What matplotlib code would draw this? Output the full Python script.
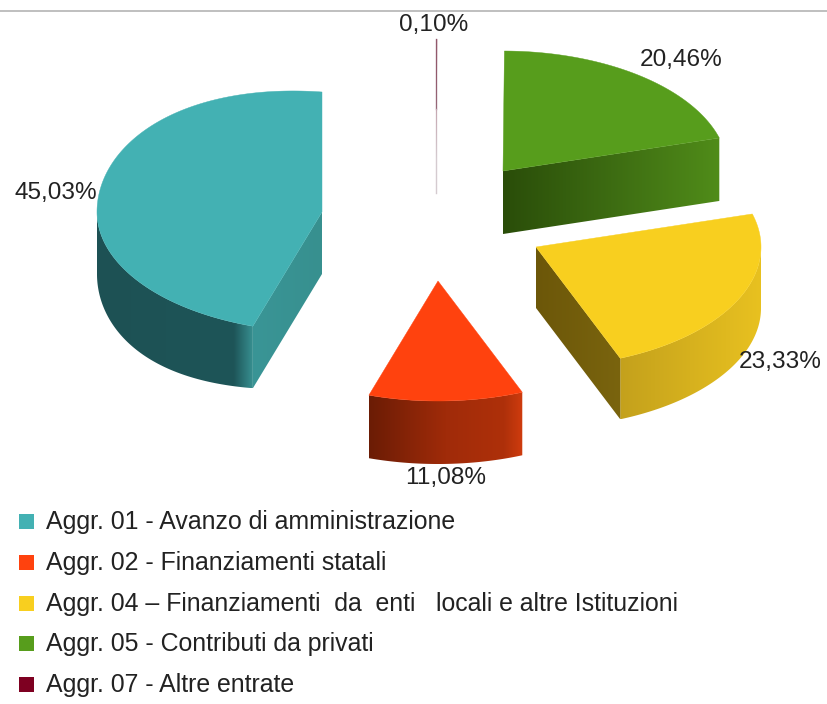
import numpy as np
import matplotlib
matplotlib.use("Agg")
import matplotlib.pyplot as plt
from matplotlib.colors import LinearSegmentedColormap
from matplotlib.patches import Polygon, Rectangle

plt.rcParams['font.family'] = ['Liberation Sans', 'DejaVu Sans']

legend_labels = ["Aggr. 01 - Avanzo di amministrazione",
                 "Aggr. 02 - Finanziamenti statali",
                 "Aggr. 04 – Finanziamenti  da  enti   locali e altre Istituzioni",
                 "Aggr. 05 - Contributi da privati",
                 "Aggr. 07 - Altre entrate"]
values = [45.03, 11.08, 23.33, 20.46, 0.10]
colors = ["#43b1b3", "#ff420e", "#f8cf1f", "#579d1c", "#7e0021"]

# look of the fake 3d pie, all in pixels
rx, ry = 225, 120
apex_x = [322, 438, 536, 503, 436]
apex_y = [212, 281, 247, 171, 159]
depth = [62, 63, 61, 63, 34]
lift = [8, 0, 0, 0, 0]  # the big slice bulges a bit from perspective
label_xy = [(56, 193), (446, 478), (780, 362), (681, 60), (434, 25)]

# gradient stops (position, colour) left to right for the visible sides
outer_stops = [[(0, "#1d5154"), (0.88, "#1e5558"), (1, "#378f90")],
               [(0, "#6b1c05"), (0.5, "#a02b09"), (0.88, "#ae300a"), (1, "#d03c0e")],
               [(0, "#c4a11c"), (0.5, "#d6b11e"), (1, "#e8c120")],
               None, None]
cut_stops = [[(0, "#3a9596"), (1, "#37908f")],
             None,
             [(0, "#6c5709"), (1, "#7a640e")],
             [(0, "#2a4d09"), (0.5, "#3d6c12"), (1, "#508c19")],
             None]

fig = plt.figure(figsize=(8.27, 7.04), dpi=100)
ax = fig.add_axes([0, 0, 1, 1])


def arc(i, t0, t1, lower=False):
    t = np.radians(np.linspace(t0, t1, 200))
    if lower:
        # bulge goes back to zero at both ends of the wall
        y = apex_y[i] - ry * np.sin(t) + depth[i] + lift[i] * np.sin(np.linspace(0, np.pi, 200))
    else:
        s = np.sin(2 * (t - np.pi / 2))
        y = apex_y[i] - ry * np.sin(t) - lift[i] * np.clip(s, 0, None)
    return np.column_stack([apex_x[i] + rx * np.cos(t), y])


def gradient_face(pts, stops, z):
    # horizontal gradient clipped to the face
    cmap = LinearSegmentedColormap.from_list("f", stops)
    x0, x1 = pts[:, 0].min(), pts[:, 0].max()
    y0, y1 = pts[:, 1].min(), pts[:, 1].max()
    im = ax.imshow(np.linspace(0, 1, 256).reshape(1, -1), cmap=cmap, aspect='auto',
                   extent=(x0, x1, y1, y0), zorder=z)
    poly = Polygon(pts, closed=True, transform=ax.transData, fc='none', ec='none')
    ax.add_patch(poly)
    im.set_clip_path(poly)


starts = 90 + np.cumsum([0] + values[:-1]) * 3.6
ends = starts + np.array(values) * 3.6

for i in [4, 3, 0, 2, 1]:
    t0, t1 = starts[i], ends[i]
    d = depth[i]
    z = 2 + i * 0.1
    shift = np.array([0, d])
    apex = np.array([apex_x[i], apex_y[i]], dtype=float)

    # outer wall, only the front part of the ellipse shows
    lo, hi = max(t0, 180), min(t1, 360)
    if lo < hi and outer_stops[i] is not None:
        wall = np.vstack([arc(i, lo, hi), arc(i, lo, hi, lower=True)[::-1]])
        gradient_face(wall, outer_stops[i], z)

    # cut faces
    if cut_stops[i] is not None:
        if np.cos(np.radians(t0)) > 0.01:
            end = arc(i, t0, t0)[0]
        else:
            end = arc(i, t1, t1)[0]
        gradient_face(np.array([apex, end, end + shift, apex + shift]), cut_stops[i], z)

    # top surface, the tiny slice is only a faint hairline
    if i == 4:
        ax.add_patch(Polygon(np.vstack([apex, arc(i, t0, t1)]), closed=True, alpha=0.3,
                             fc=colors[i], ec='none', zorder=z + 0.05))
        ax.plot([apex[0], apex[0]], [apex[1] - ry, apex[1] - 50], color="#9c7f8c",
                lw=1, zorder=z)
        ax.plot([apex[0], apex[0]], [apex[1] - 50, apex[1] + d], color="#d5cbd0",
                lw=1, zorder=z)
    else:
        ax.add_patch(Polygon(np.vstack([apex, arc(i, t0, t1)]), closed=True,
                             fc=colors[i], ec=colors[i], lw=0.3, zorder=z + 0.05))

    ax.text(label_xy[i][0], label_xy[i][1], f"{values[i]:.2f}%".replace('.', ','),
            fontsize=17.6, color="#222222", ha='center', va='center', zorder=5)

# rule on top of the picture
ax.plot([0, 827], [10.5, 10.5], color="#b4b4b4", lw=1.2)

# legend
legend_y = [522, 563, 604, 644, 685]
for lab, col, y in zip(legend_labels, colors, legend_y):
    ax.add_patch(Rectangle((18.5, y - 8), 15, 15, fc=col, ec='none'))
    ax.text(46, y, lab, fontsize=17.9, color="#222222", ha='left', va='center')

ax.set_xlim(0, 827)
ax.set_ylim(704, 0)
ax.axis('off')
fig.savefig("out.png", dpi=100)
